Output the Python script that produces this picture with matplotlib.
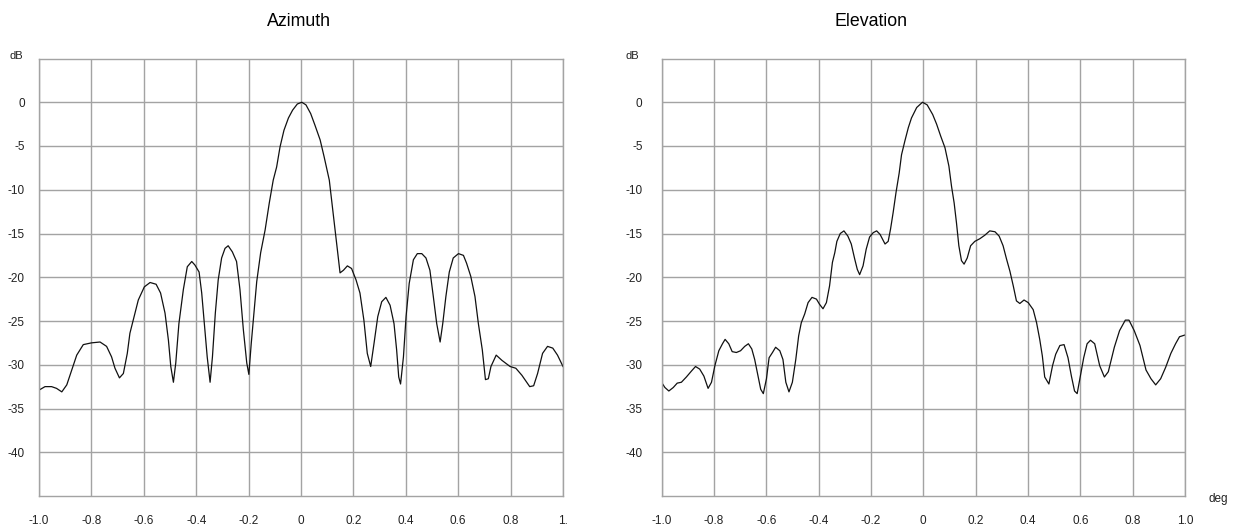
import matplotlib
matplotlib.use("Agg")
import matplotlib.pyplot as plt

plt.rcParams['font.family'] = ['Liberation Sans', 'DejaVu Sans']

# Azimuth cut: angle (deg) and relative level (dB)
az_deg = [-1.000, -0.977, -0.952, -0.933, -0.913, -0.894, -0.875, -0.856, -0.831, -0.800,
          -0.767, -0.742, -0.723, -0.710, -0.693, -0.678, -0.663, -0.653, -0.637, -0.621,
          -0.598, -0.576, -0.553, -0.536, -0.519, -0.506, -0.497, -0.487, -0.478, -0.466,
          -0.449, -0.434, -0.417, -0.405, -0.389, -0.379, -0.369, -0.358, -0.347, -0.338,
          -0.327, -0.316, -0.303, -0.290, -0.278, -0.262, -0.246, -0.233, -0.220, -0.207,
          -0.199, -0.190, -0.182, -0.169, -0.154, -0.137, -0.121, -0.106, -0.093, -0.080,
          -0.065, -0.048, -0.032, -0.014, 0.003, 0.019, 0.037, 0.053, 0.073, 0.088,
          0.108, 0.117, 0.127, 0.139, 0.149, 0.162, 0.177, 0.193, 0.210, 0.225,
          0.240, 0.253, 0.266, 0.279, 0.293, 0.308, 0.324, 0.340, 0.355, 0.365,
          0.373, 0.380, 0.391, 0.401, 0.413, 0.429, 0.444, 0.461, 0.477, 0.492,
          0.505, 0.518, 0.531, 0.541, 0.553, 0.566, 0.581, 0.601, 0.620, 0.632,
          0.648, 0.664, 0.677, 0.692, 0.704, 0.715, 0.725, 0.745, 0.767, 0.798,
          0.820, 0.843, 0.873, 0.888, 0.903, 0.922, 0.941, 0.961, 0.979, 1.000]
az_db = [-32.9, -32.5, -32.5, -32.7, -33.1, -32.3, -30.6, -28.9, -27.7, -27.5,
         -27.4, -27.9, -29.1, -30.4, -31.5, -31.0, -28.7, -26.4, -24.5, -22.6,
         -21.1, -20.6, -20.8, -21.8, -24.1, -27.2, -30.2, -32.0, -29.8, -25.3,
         -21.4, -18.8, -18.2, -18.6, -19.4, -21.8, -25.3, -29.1, -32.0, -29.1,
         -24.1, -20.3, -17.8, -16.7, -16.4, -17.1, -18.2, -21.4, -26.0, -29.8,
         -31.1, -27.6, -24.9, -20.5, -17.2, -14.6, -11.5, -8.9, -7.4, -5.1,
         -3.2, -1.8, -0.9, -0.2, 0.0, -0.3, -1.3, -2.6, -4.3, -6.2,
         -8.9, -11.2, -13.8, -16.9, -19.5, -19.2, -18.7, -19.0, -20.3, -21.8,
         -24.9, -28.7, -30.2, -27.5, -24.5, -22.8, -22.3, -23.2, -25.3, -28.3,
         -31.4, -32.2, -29.1, -24.5, -20.7, -18.0, -17.3, -17.3, -17.8, -19.2,
         -22.2, -25.3, -27.4, -25.3, -22.2, -19.4, -17.8, -17.3, -17.5, -18.4,
         -19.9, -22.2, -25.3, -28.3, -31.7, -31.6, -30.2, -28.9, -29.5, -30.2,
         -30.4, -31.2, -32.5, -32.4, -31.0, -28.7, -27.9, -28.1, -28.9, -30.2]

# Elevation cut: angle (deg) and relative level (dB)
el_deg = [-1.000, -0.987, -0.972, -0.955, -0.940, -0.924, -0.905, -0.885, -0.870, -0.854,
          -0.838, -0.822, -0.809, -0.796, -0.781, -0.767, -0.757, -0.743, -0.730, -0.714,
          -0.698, -0.682, -0.668, -0.655, -0.644, -0.631, -0.621, -0.611, -0.599, -0.589,
          -0.576, -0.564, -0.548, -0.536, -0.525, -0.513, -0.500, -0.487, -0.476, -0.466,
          -0.453, -0.440, -0.425, -0.408, -0.396, -0.383, -0.370, -0.358, -0.347, -0.338,
          -0.330, -0.317, -0.303, -0.288, -0.275, -0.262, -0.252, -0.243, -0.230, -0.218,
          -0.205, -0.191, -0.178, -0.165, -0.146, -0.134, -0.125, -0.115, -0.104, -0.092,
          -0.083, -0.070, -0.057, -0.045, -0.025, -0.003, 0.015, 0.036, 0.051, 0.067,
          0.083, 0.098, 0.108, 0.118, 0.127, 0.136, 0.146, 0.156, 0.168, 0.181,
          0.197, 0.216, 0.235, 0.254, 0.274, 0.290, 0.305, 0.318, 0.331, 0.344,
          0.356, 0.369, 0.385, 0.401, 0.420, 0.433, 0.445, 0.455, 0.464, 0.480,
          0.494, 0.506, 0.522, 0.538, 0.553, 0.566, 0.578, 0.588, 0.600, 0.613,
          0.626, 0.639, 0.655, 0.674, 0.692, 0.707, 0.730, 0.750, 0.772, 0.786,
          0.806, 0.828, 0.851, 0.870, 0.888, 0.907, 0.926, 0.946, 0.964, 0.979, 1.000]
el_db = [-32.0, -32.6, -33.0, -32.6, -32.1, -32.0, -31.4, -30.7, -30.2, -30.5,
         -31.3, -32.7, -32.0, -30.1, -28.4, -27.6, -27.1, -27.6, -28.5, -28.6,
         -28.4, -27.9, -27.6, -28.2, -29.4, -31.3, -32.8, -33.3, -31.6, -29.2,
         -28.6, -28.0, -28.4, -29.4, -32.0, -33.1, -32.0, -29.4, -26.7, -25.2,
         -24.2, -22.9, -22.3, -22.5, -23.1, -23.6, -22.9, -21.0, -18.3, -17.2,
         -15.9, -15.0, -14.7, -15.3, -16.2, -17.9, -19.1, -19.7, -18.7, -16.8,
         -15.4, -14.9, -14.7, -15.1, -16.2, -15.9, -14.5, -12.6, -10.3, -8.1,
         -6.0, -4.4, -2.9, -1.8, -0.6, 0.0, -0.3, -1.4, -2.5, -3.9,
         -5.2, -7.3, -9.6, -11.5, -13.8, -16.4, -18.1, -18.5, -17.8, -16.4,
         -15.9, -15.6, -15.2, -14.7, -14.8, -15.3, -16.4, -17.9, -19.3, -21.0,
         -22.7, -23.0, -22.6, -22.9, -23.7, -25.2, -27.1, -29.0, -31.4, -32.2,
         -30.1, -28.8, -27.8, -27.7, -29.2, -31.3, -33.0, -33.3, -31.3, -29.2,
         -27.6, -27.2, -27.6, -30.1, -31.4, -30.8, -28.0, -26.1, -24.9, -24.9,
         -26.1, -27.8, -30.6, -31.6, -32.3, -31.6, -30.3, -28.7, -27.6, -26.8, -26.6]

x_ticks = [-1.0, -0.8, -0.6, -0.4, -0.2, 0.0, 0.2, 0.4, 0.6, 0.8, 1.0]
az_xticklabels = ['-1.0', '-0.8', '-0.6', '-0.4', '-0.2', '0', '0.2', '0.4', '0.6', '0.8', '1.']
el_xticklabels = ['-1.0', '-0.8', '-0.6', '-0.4', '-0.2', '0', '0.2', '0.4', '0.6', '0.8', '1.0']
y_ticks = [0, -5, -10, -15, -20, -25, -30, -35, -40]
y_ticklabels = ['0', '-5', '-10', '-15', '-20', '-25', '-30', '-35', '-40']

W, H = 1238, 527
GRID = '#a3a3a3'
TEXT = '#222222'

fig = plt.figure(figsize=(W / 100, H / 100), dpi=100)
fig.patch.set_facecolor('white')


def px_axes(left, top, right, bottom):
    return [left / W, 1 - bottom / H, (right - left) / W, (bottom - top) / H]


def style(ax, xlabels, ypad):
    ax.set_xlim(-1.0, 1.0)
    ax.set_ylim(-45, 5)
    ax.set_xticks(x_ticks)
    ax.set_xticklabels(xlabels)
    ax.set_yticks(y_ticks)
    ax.set_yticklabels(y_ticklabels)
    ax.grid(True, color=GRID, linewidth=1.0)
    ax.set_axisbelow(True)
    for s in ax.spines.values():
        s.set_color(GRID)
        s.set_linewidth(1.0)
    ax.tick_params(axis='both', length=0, labelsize=8.5, labelcolor=TEXT)
    ax.tick_params(axis='x', pad=13.5)
    ax.tick_params(axis='y', pad=ypad)


ax1 = fig.add_axes(px_axes(39, 58.5, 563, 496))
style(ax1, az_xticklabels, 10.2)
ax1.plot(az_deg, az_db, color='#111111', linewidth=0.9)

ax2 = fig.add_axes(px_axes(661.5, 58.5, 1185, 496))
style(ax2, el_xticklabels, 13.6)
ax2.plot(el_deg, el_db, color='#111111', linewidth=0.9)

# titles and unit labels
fig.text(299 / W, 1 - 21 / H, 'Azimuth', ha='center', va='center', fontsize=12.8, color='black')
fig.text(871 / W, 1 - 21 / H, 'Elevation', ha='center', va='center', fontsize=12.8, color='black')
fig.text(16 / W, 1 - 56 / H, 'dB', ha='center', va='center', fontsize=8, color=TEXT)
fig.text(632 / W, 1 - 56 / H, 'dB', ha='center', va='center', fontsize=8, color=TEXT)
fig.text(1218 / W, 1 - 499 / H, 'deg', ha='center', va='center', fontsize=8.5, color=TEXT)

fig.savefig('out.png', dpi=100, facecolor='white')
